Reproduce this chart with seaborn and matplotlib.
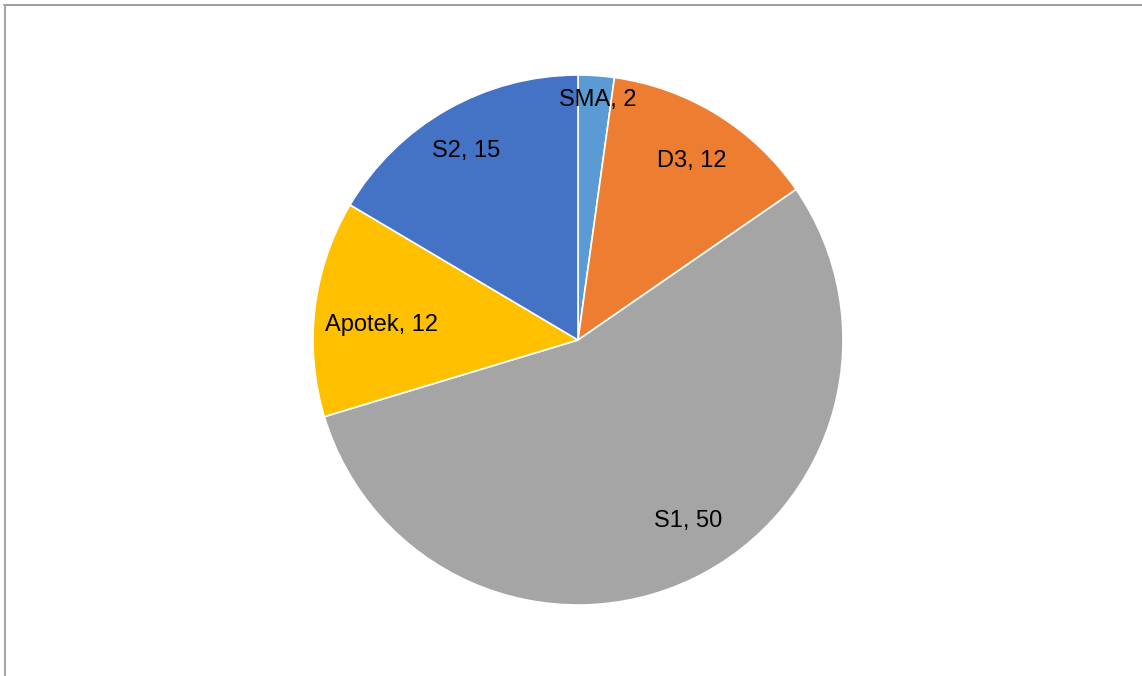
import matplotlib
matplotlib.use("Agg")
import matplotlib.pyplot as plt
import seaborn as sns
import numpy as np
from matplotlib.lines import Line2D

categories = ["SMA", "D3", "S1", "Apotek", "S2"]
values = [2, 12, 50, 12, 15]
colors_hex = ["#5B9BD5", "#ED7D31", "#A5A5A5", "#FFC000", "#4472C4"]

# label placement (radius fraction, angle shift in degrees from wedge middle)
label_radius = [0.91, 0.80, 0.80, 0.745, 0.83]
label_shift = [-0.8, -0.8, 5.6, 2.5, 1.0]

sns.set_theme(style="white")
plt.rcParams['font.family'] = ['Liberation Sans', 'DejaVu Sans']

palette = sns.color_palette(colors_hex)
labels = [f"{c}, {v}" for c, v in zip(categories, values)]

fig = plt.figure(figsize=(11.42, 6.76), dpi=100)
ax = fig.add_axes([313 / 1142, 71 / 676, 530 / 1142, 530 / 676])
wedges, texts = ax.pie(values, labels=labels, colors=palette, startangle=90,
                       counterclock=False, labeldistance=0.80,
                       wedgeprops=dict(edgecolor="white", linewidth=1.2),
                       textprops=dict(fontsize=17, color="black",
                                      ha="center", va="center"))
for t, w, r, s in zip(texts, wedges, label_radius, label_shift):
    ang = np.deg2rad((w.theta1 + w.theta2) / 2 + s)
    t.set_position((r * np.cos(ang), r * np.sin(ang)))
    t.set_ha("center")
    t.set_va("center")

ax.set_xlim(-1, 1)
ax.set_ylim(-1, 1)
ax.set_aspect("equal")
ax.axis("off")

fig.add_artist(Line2D([4 / 1142, 1], [1 - 4.5 / 676, 1 - 4.5 / 676],
                      transform=fig.transFigure, color="#8c8c8c", lw=1.2))
fig.add_artist(Line2D([5 / 1142, 5 / 1142], [0, 1 - 4.5 / 676],
                      transform=fig.transFigure, color="#a6a6a6", lw=1.5))

fig.savefig("out.png", dpi=100, facecolor="white")
